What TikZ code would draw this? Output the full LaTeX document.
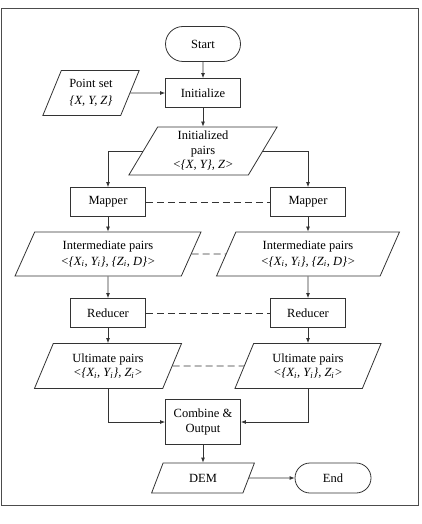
\documentclass[tikz,border=0pt]{standalone}
\usepackage{fontspec}
\setmainfont{Liberation Serif}
\newfontfamily\chartfont{Liberation Serif}
\usetikzlibrary{shapes.geometric,shapes.misc,arrows.meta}

\begin{document}
\begin{tikzpicture}
  [x=1pt,y=-1pt,font=\chartfont\fontsize{12.5}{14.5}\selectfont,
   ink/.style={draw=black!80,line width=0.8pt},
   proc/.style={rectangle,ink,inner sep=0pt,minimum width=75pt,minimum height=29pt,align=center},
   term/.style={rounded rectangle,ink,inner sep=0pt,minimum width=75pt,minimum height=35pt},
   data/.style={trapezium,trapezium left angle=64,trapezium right angle=116,trapezium stretches=true,ink,inner sep=0pt,align=center},
   link/.style={ink,dash pattern=on 7pt off 4pt},
   >={Latex[length=5pt,width=4pt]}]

  \useasboundingbox (0,0) rectangle (422,524);
  \draw[black!70,line width=0.8pt] (1,8) rectangle (418,505);

  \node[term] (start) at (203,44) {Start};
  \node[proc] (init) at (203,93) {Initialize};
  \node[data,minimum width=97pt,minimum height=45pt] (pts) at (91,93) {Point set\\[3pt]\textit{\{X, Y, Z\}}};
  \node[data,minimum width=149pt,minimum height=48pt] (ipairs) at (203,151) {Initialized\\pairs\\\textit{<\{X, Y\}, Z>}};
  \node[proc] (mapL) at (108,202) {Mapper};
  \node[proc] (mapR) at (308,202) {Mapper};
  \node[data,minimum width=186pt,minimum height=44pt] (midL) at (108,254) {Intermediate pairs\\[1pt]\textit{<\{X\textsubscript{i}, Y\textsubscript{i}\}, \{Z\textsubscript{i}, D\}>}};
  \node[data,minimum width=183pt,minimum height=44pt] (midR) at (308,254) {Intermediate pairs\\[1pt]\textit{<\{X\textsubscript{i}, Y\textsubscript{i}\}, \{Z\textsubscript{i}, D\}>}};
  \node[proc] (redL) at (108,313) {Reducer};
  \node[proc] (redR) at (308,313) {Reducer};
  \node[data,minimum width=148pt,minimum height=45pt] (ultL) at (108,366) {Ultimate pairs\\\textit{<\{X\textsubscript{i}, Y\textsubscript{i}\}, Z\textsubscript{i}>}};
  \node[data,minimum width=147pt,minimum height=45pt] (ultR) at (308,366) {Ultimate pairs\\\textit{<\{X\textsubscript{i}, Y\textsubscript{i}\}, Z\textsubscript{i}>}};
  \node[proc,minimum height=45pt] (comb) at (203,422) {Combine \&\\[1pt]Output};
  \node[data,minimum width=103pt,minimum height=30pt] (dem) at (203,478) {DEM};
  \node[term,minimum width=76pt,minimum height=30pt] (end) at (333,478) {End};

  \foreach \from/\to in {start/init,pts/init,init/ipairs,mapL/midL,midL/redL,redL/ultL,mapR/midR,midR/redR,redR/ultR,comb/dem,dem/end}
    \draw[ink,->] (\from) -- (\to);
  \draw[ink,->] (ipairs.west) -| (mapL);
  \draw[ink,->] (ipairs.east) -| (mapR);
  \draw[ink,->] (ultL) |- (comb);
  \draw[ink,->] (ultR) |- (comb);
  \foreach \from/\to in {mapL/mapR,midL/midR,redL/redR,ultL/ultR}
    \draw[link] (\from) -- (\to);
\end{tikzpicture}
\end{document}
